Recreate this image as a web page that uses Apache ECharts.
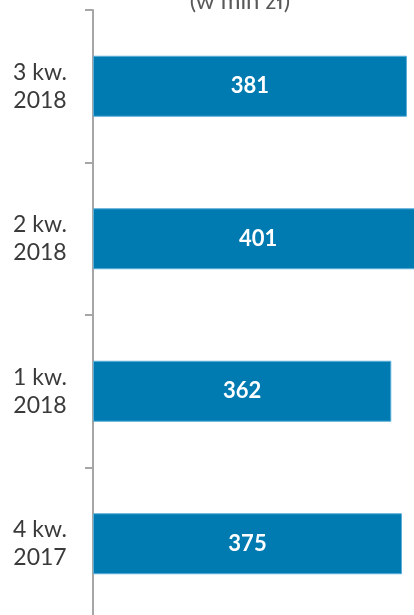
<!DOCTYPE html>
<html>
<head>
<meta charset="utf-8">
<script src="https://cdn.jsdelivr.net/npm/echarts@6/dist/echarts.min.js"></script>
<style>
	html, body { margin: 0; padding: 0; background: #fff; }
	#chart { width: 414px; height: 615px; }
</style>
</head>
<body>
<div id="chart"></div>
<script>
// quarters, top to bottom
const categories = [ '3 kw.\n2018', '2 kw.\n2018', '1 kw.\n2018', '4 kw.\n2017' ];
const values = [ 381, 401, 362, 375 ];

const chart = echarts.init( document.getElementById( 'chart' ), null, { renderer: 'canvas' } );

chart.setOption( {
	animation: false,
	title: {
		text: '(w mln zł)',
		left: 235,
		textAlign: 'center',
		top: -16,
		textStyle: { fontFamily: 'Lato', fontSize: 24, fontWeight: 'normal', color: '#595959' }
	},
	// the original chart runs past the right and bottom edges
	grid: { left: 93, width: 412, top: 10, bottom: -5, outerBoundsMode: 'none', containLabel: false },
	xAxis: {
		type: 'value',
		min: 0,
		max: 500,
		show: false
	},
	yAxis: {
		type: 'category',
		inverse: true,
		data: categories,
		axisLine: { show: true, lineStyle: { color: '#a6a6a6', width: 2 } },
		axisTick: { show: true, length: 8, lineStyle: { color: '#a6a6a6', width: 2 } },
		axisLabel: {
			margin: 53,
			align: 'center',
			fontFamily: 'Lato',
			fontSize: 23,
			lineHeight: 28,
			color: '#3a3a3a'
		}
	},
	series: [ {
		type: 'bar',
		data: values,
		barCategoryGap: '60%',
		itemStyle: { color: '#007BB2', borderColor: '#5aaed8', borderWidth: 1 },
		label: {
			show: true,
			position: 'inside',
			fontFamily: 'Lato',
			fontSize: 22,
			fontWeight: 'bold',
			color: '#ffffff'
		}
	} ]
} );
</script>
</body>
</html>
